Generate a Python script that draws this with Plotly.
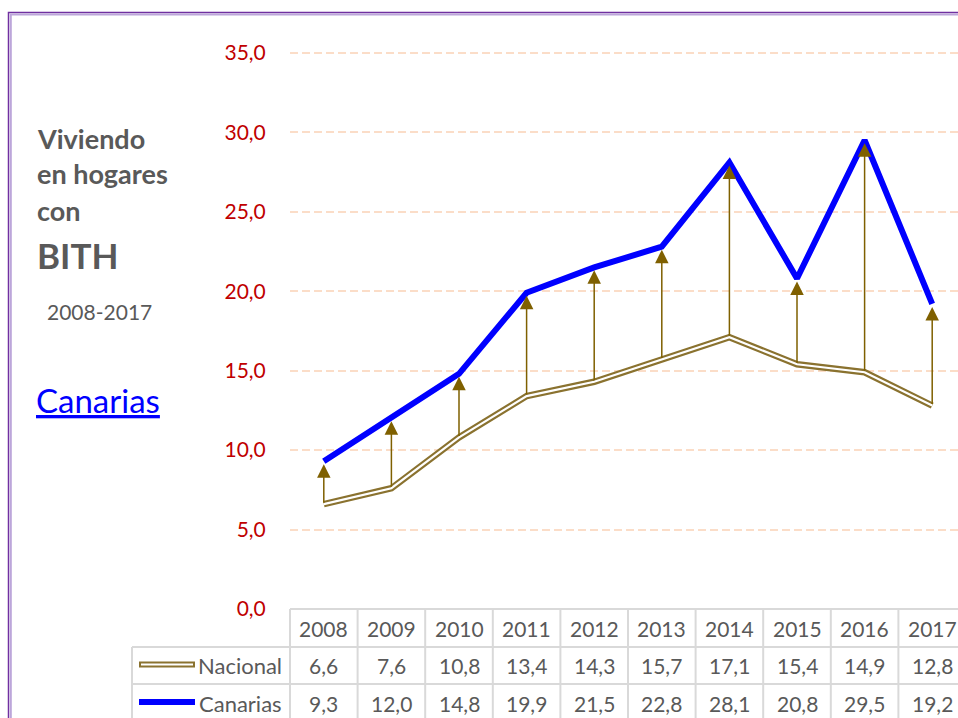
import plotly.graph_objects as go

# ---------------- data ----------------
years = [2008, 2009, 2010, 2011, 2012, 2013, 2014, 2015, 2016, 2017]
nacional = [6.6, 7.6, 10.8, 13.4, 14.3, 15.7, 17.1, 15.4, 14.9, 12.8]
canarias = [9.3, 12.0, 14.8, 19.9, 21.5, 22.8, 28.1, 20.8, 29.5, 19.2]
series_names = ["Nacional", "Canarias"]
ytick_vals = [0, 5, 10, 15, 20, 25, 30, 35]

# ---------------- geometry helpers (layout only) ----------------
W, H = 958, 718
PL, PR, PT, PB = 290, 958, 15, 609          # plot area in pixels
COLW = 67.6                                 # pixels per year
PPU = 15.89                                 # pixels per y unit
xr = [years[0] - 0.5, years[0] - 0.5 + (PR - PL) / COLW]
yr = [0, (PB - PT) / PPU]


def pxx(px):
    return (px - PL) / (PR - PL)


def pxy(py):
    return (PB - py) / (PB - PT)


def dx(v):
    return (v - xr[0]) / (xr[1] - xr[0])


def fmt(v):
    return f"{v:.1f}".replace(".", ",")


FONT = "Lato, 'Open Sans', sans-serif"
GRAY = "#595959"
BROWN = "#8A722F"
ARROW = "#7F6000"
BLUE = "#0000FF"
TBL = "#D9D9D9"

fig = go.Figure()

# Nacional double line (outer brown + inner white)
fig.add_trace(go.Scatter(x=years, y=nacional, mode="lines",
                         line=dict(color=BROWN, width=6.5), hoverinfo="skip",
                         showlegend=False))
fig.add_trace(go.Scatter(x=years, y=nacional, mode="lines",
                         line=dict(color="white", width=2.2), name="Nacional",
                         showlegend=False))
# Canarias
fig.add_trace(go.Scatter(x=years, y=canarias, mode="lines",
                         line=dict(color=BLUE, width=6), name="Canarias",
                         showlegend=False))

annotations = []
shapes = []

# arrows from Nacional to Canarias
for yv, n, c in zip(years, nacional, canarias):
    annotations.append(dict(x=yv, y=c, ax=yv, ay=n, xref="x", yref="y",
                            axref="x", ayref="y", text="", showarrow=True,
                            arrowhead=2, arrowsize=1.8, arrowwidth=1.5,
                            arrowcolor=ARROW, standoff=3))

# ---------------- table ----------------
row_tops = [PB, 647, 684, 722]
# horizontal lines
shapes.append(dict(type="line", xref="paper", yref="paper",
                   x0=pxx(PL), x1=pxx(W + 10), y0=pxy(row_tops[0]), y1=pxy(row_tops[0]),
                   line=dict(color=TBL, width=2), layer="above"))
for rt in row_tops[1:3]:
    shapes.append(dict(type="line", xref="paper", yref="paper",
                       x0=pxx(132), x1=pxx(W + 10), y0=pxy(rt), y1=pxy(rt),
                       line=dict(color=TBL, width=2), layer="above"))
# vertical lines
shapes.append(dict(type="line", xref="paper", yref="paper",
                   x0=pxx(132), x1=pxx(132), y0=pxy(row_tops[1]), y1=pxy(H + 5),
                   line=dict(color=TBL, width=2), layer="above"))
for yv in years + [years[-1] + 1]:
    shapes.append(dict(type="line", xref="paper", yref="paper",
                       x0=dx(yv - 0.5), x1=dx(yv - 0.5), y0=pxy(row_tops[0]), y1=pxy(H + 5),
                       line=dict(color=TBL, width=2), layer="above"))

row_centers = [(row_tops[i] + row_tops[i + 1]) / 2 for i in range(3)]
cell_font = dict(family=FONT, size=21, color=GRAY)
for i, yv in enumerate(years):
    for r, txt in enumerate([str(yv), fmt(nacional[i]), fmt(canarias[i])]):
        annotations.append(dict(x=yv, y=pxy(row_centers[r]), xref="x", yref="paper",
                                text=txt, showarrow=False, xanchor="center",
                                yanchor="middle", font=cell_font))

# row labels with legend keys
for k, name in enumerate(series_names):
    yc = row_centers[k + 1]
    annotations.append(dict(x=pxx(284), y=pxy(yc), xref="paper", yref="paper",
                            text=name, showarrow=False, xanchor="right",
                            yanchor="middle",
                            font=dict(family=FONT, size=22, color=GRAY)))
    if name == "Nacional":
        shapes.append(dict(type="line", xref="paper", yref="paper",
                           x0=pxx(139), x1=pxx(195), y0=pxy(yc - 1), y1=pxy(yc - 1),
                           line=dict(color=BROWN, width=6), layer="above"))
        shapes.append(dict(type="line", xref="paper", yref="paper",
                           x0=pxx(141), x1=pxx(193), y0=pxy(yc - 1), y1=pxy(yc - 1),
                           line=dict(color="white", width=2), layer="above"))
    else:
        shapes.append(dict(type="line", xref="paper", yref="paper",
                           x0=pxx(139), x1=pxx(195), y0=pxy(yc - 1), y1=pxy(yc - 1),
                           line=dict(color=BLUE, width=6), layer="above"))

# ---------------- left text ----------------
left_texts = [
    ("Viviendo", 35, 138, 27, True, GRAY),
    ("en hogares", 35, 174, 27, True, GRAY),
    ("con", 35, 210, 27, True, GRAY),
    ("BITH", 35, 255, 35, True, GRAY),
    ("2008-2017", 45, 311, 21, False, GRAY),
]
for t, x, y, s, b, col in left_texts:
    annotations.append(dict(x=pxx(x), y=pxy(y), xref="paper", yref="paper",
                            text=f"<b>{t}</b>" if b else t, showarrow=False,
                            xanchor="left", yanchor="middle",
                            font=dict(family=FONT, size=s, color=col)))
annotations.append(dict(x=pxx(34), y=pxy(400), xref="paper", yref="paper",
                        text="Canarias", showarrow=False, xanchor="left", yanchor="middle",
                        font=dict(family=FONT, size=33, color=BLUE, lineposition="under")))

# ---------------- frame ----------------
shapes.append(dict(type="rect", xref="paper", yref="paper",
                   x0=pxx(8.5), x1=pxx(W + 20), y0=pxy(12.5), y1=pxy(H + 20),
                   line=dict(color="#7030A0", width=1.5), layer="above"))
shapes.append(dict(type="rect", xref="paper", yref="paper",
                   x0=pxx(10.8), x1=pxx(W + 20), y0=pxy(14.5), y1=pxy(H + 20),
                   line=dict(color="#BCA6DA", width=2), layer="above"))

fig.update_layout(
    width=W, height=H,
    margin=dict(l=PL, r=W - PR, t=PT, b=H - PB, pad=0),
    paper_bgcolor="white", plot_bgcolor="white",
    separators=",.",
    showlegend=False,
    xaxis=dict(range=xr, showgrid=False, zeroline=False, showticklabels=False,
               showline=False, ticks=""),
    yaxis=dict(range=yr, tickvals=ytick_vals, tickformat=".1f",
               showgrid=True, gridcolor="#FBDDC8", gridwidth=2, griddash="8px,4px",
               zeroline=False, showline=False, ticks="outside", ticklen=19,
               tickcolor="rgba(0,0,0,0)",
               tickfont=dict(family=FONT, size=21, color="#C00000")),
    annotations=annotations,
    shapes=shapes,
)

fig.write_html("out.html", config={"displayModeBar": False},
               post_script="document.body.style.margin='0';document.body.style.overflow='hidden';")
